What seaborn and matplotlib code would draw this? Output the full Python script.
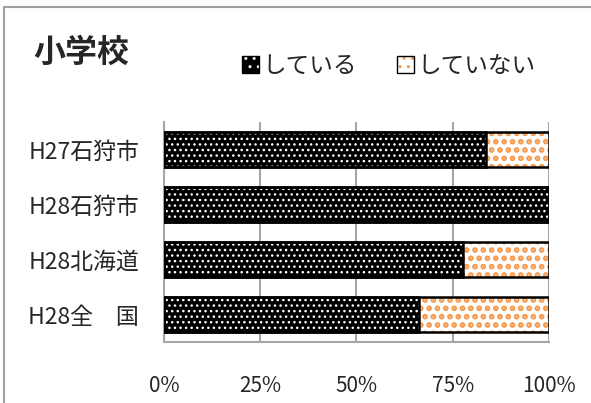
import pandas as pd
import matplotlib
matplotlib.use("Agg")
import matplotlib.pyplot as plt
import seaborn as sns
from matplotlib.patches import Patch, Rectangle
from matplotlib.legend_handler import HandlerTuple

# data
categories = ["H27石狩市", "H28石狩市", "H28北海道", "H28全\u3000国"]
doing = [83.6, 100.0, 77.7, 66.2]
total = [100, 100, 100, 100]
x_ticks = [0, 25, 50, 75, 100]
x_labels = ["0%", "25%", "50%", "75%", "100%"]

sns.set_style("white")
plt.rcParams["font.family"] = ["Noto Sans CJK JP", "DejaVu Sans"]

df = pd.DataFrame({"category": categories, "doing": doing, "total": total})

fig = plt.figure(figsize=(5.91, 4.03), dpi=100)
ax = fig.add_axes([0.2775, 0.151, 0.6514, 0.546])

orange = "#F79646"

# background bar (している + していない = 100%)
plt.rcParams["hatch.linewidth"] = 2.8
sns.barplot(data=df, y="category", x="total", orient="h", color="white",
            width=0.64, ax=ax, zorder=2)
n = len(ax.patches)
for p in ax.patches:
    p.set_facecolor("white")
    p.set_edgecolor(orange)
    p.set_hatch("..")
    p.set_linewidth(0)
orange_handle = Patch(facecolor="white", edgecolor=orange, hatch="..", linewidth=0)

plt.rcParams["hatch.linewidth"] = 1.0
sns.barplot(data=df, y="category", x="doing", orient="h", color="black",
            width=0.64, ax=ax, zorder=3)
for p in ax.patches[n:]:
    p.set_facecolor("black")
    p.set_edgecolor("white")
    p.set_hatch("...")
    p.set_linewidth(0)
black_handle = Patch(facecolor="black", edgecolor="white", hatch="..", linewidth=0)

# black outlines around every segment
for p in list(ax.patches):
    ax.add_patch(Rectangle(p.get_xy(), p.get_width(), p.get_height(),
                           fill=False, edgecolor="black", linewidth=1.8,
                           zorder=4))

ax.set_xlim(0, 100)
ax.set_ylim(3.5, -0.5)
ax.set_xticks(x_ticks)
ax.set_xticklabels(x_labels, fontsize=15)
ax.tick_params(axis="y", labelsize=16.5, length=0, pad=18)
ax.tick_params(axis="x", length=0, pad=24)
ax.set_xlabel("")
ax.set_ylabel("")
ax.xaxis.grid(True, color="#a6a6a6", linewidth=1.5, zorder=1)
ax.set_axisbelow(True)
for s in ["top", "right"]:
    ax.spines[s].set_visible(False)
for s in ["left", "bottom"]:
    ax.spines[s].set_color("#a6a6a6")
    ax.spines[s].set_linewidth(1.5)

fig.text(0.056, 0.868, "小学校", fontsize=23, fontweight="bold", va="center")

outline = Patch(facecolor="none", edgecolor="black", linewidth=1.0)
fig.legend(handles=[(black_handle, outline), (orange_handle, outline)],
           labels=["している", "していない"], loc="center",
           bbox_to_anchor=(0.658, 0.835), ncol=2, frameon=False, fontsize=17,
           handlelength=0.7, handleheight=0.7, handletextpad=0.15,
           columnspacing=1.7, handler_map={tuple: HandlerTuple(ndivide=1)})

# chart frame
fig.patches.append(Rectangle((4 / 591, -0.1), 1.2, 1 - 7 / 403 + 0.1,
                             transform=fig.transFigure, fill=False,
                             edgecolor="#a0a0a0", linewidth=1.5))

fig.savefig("out.png", dpi=100)
